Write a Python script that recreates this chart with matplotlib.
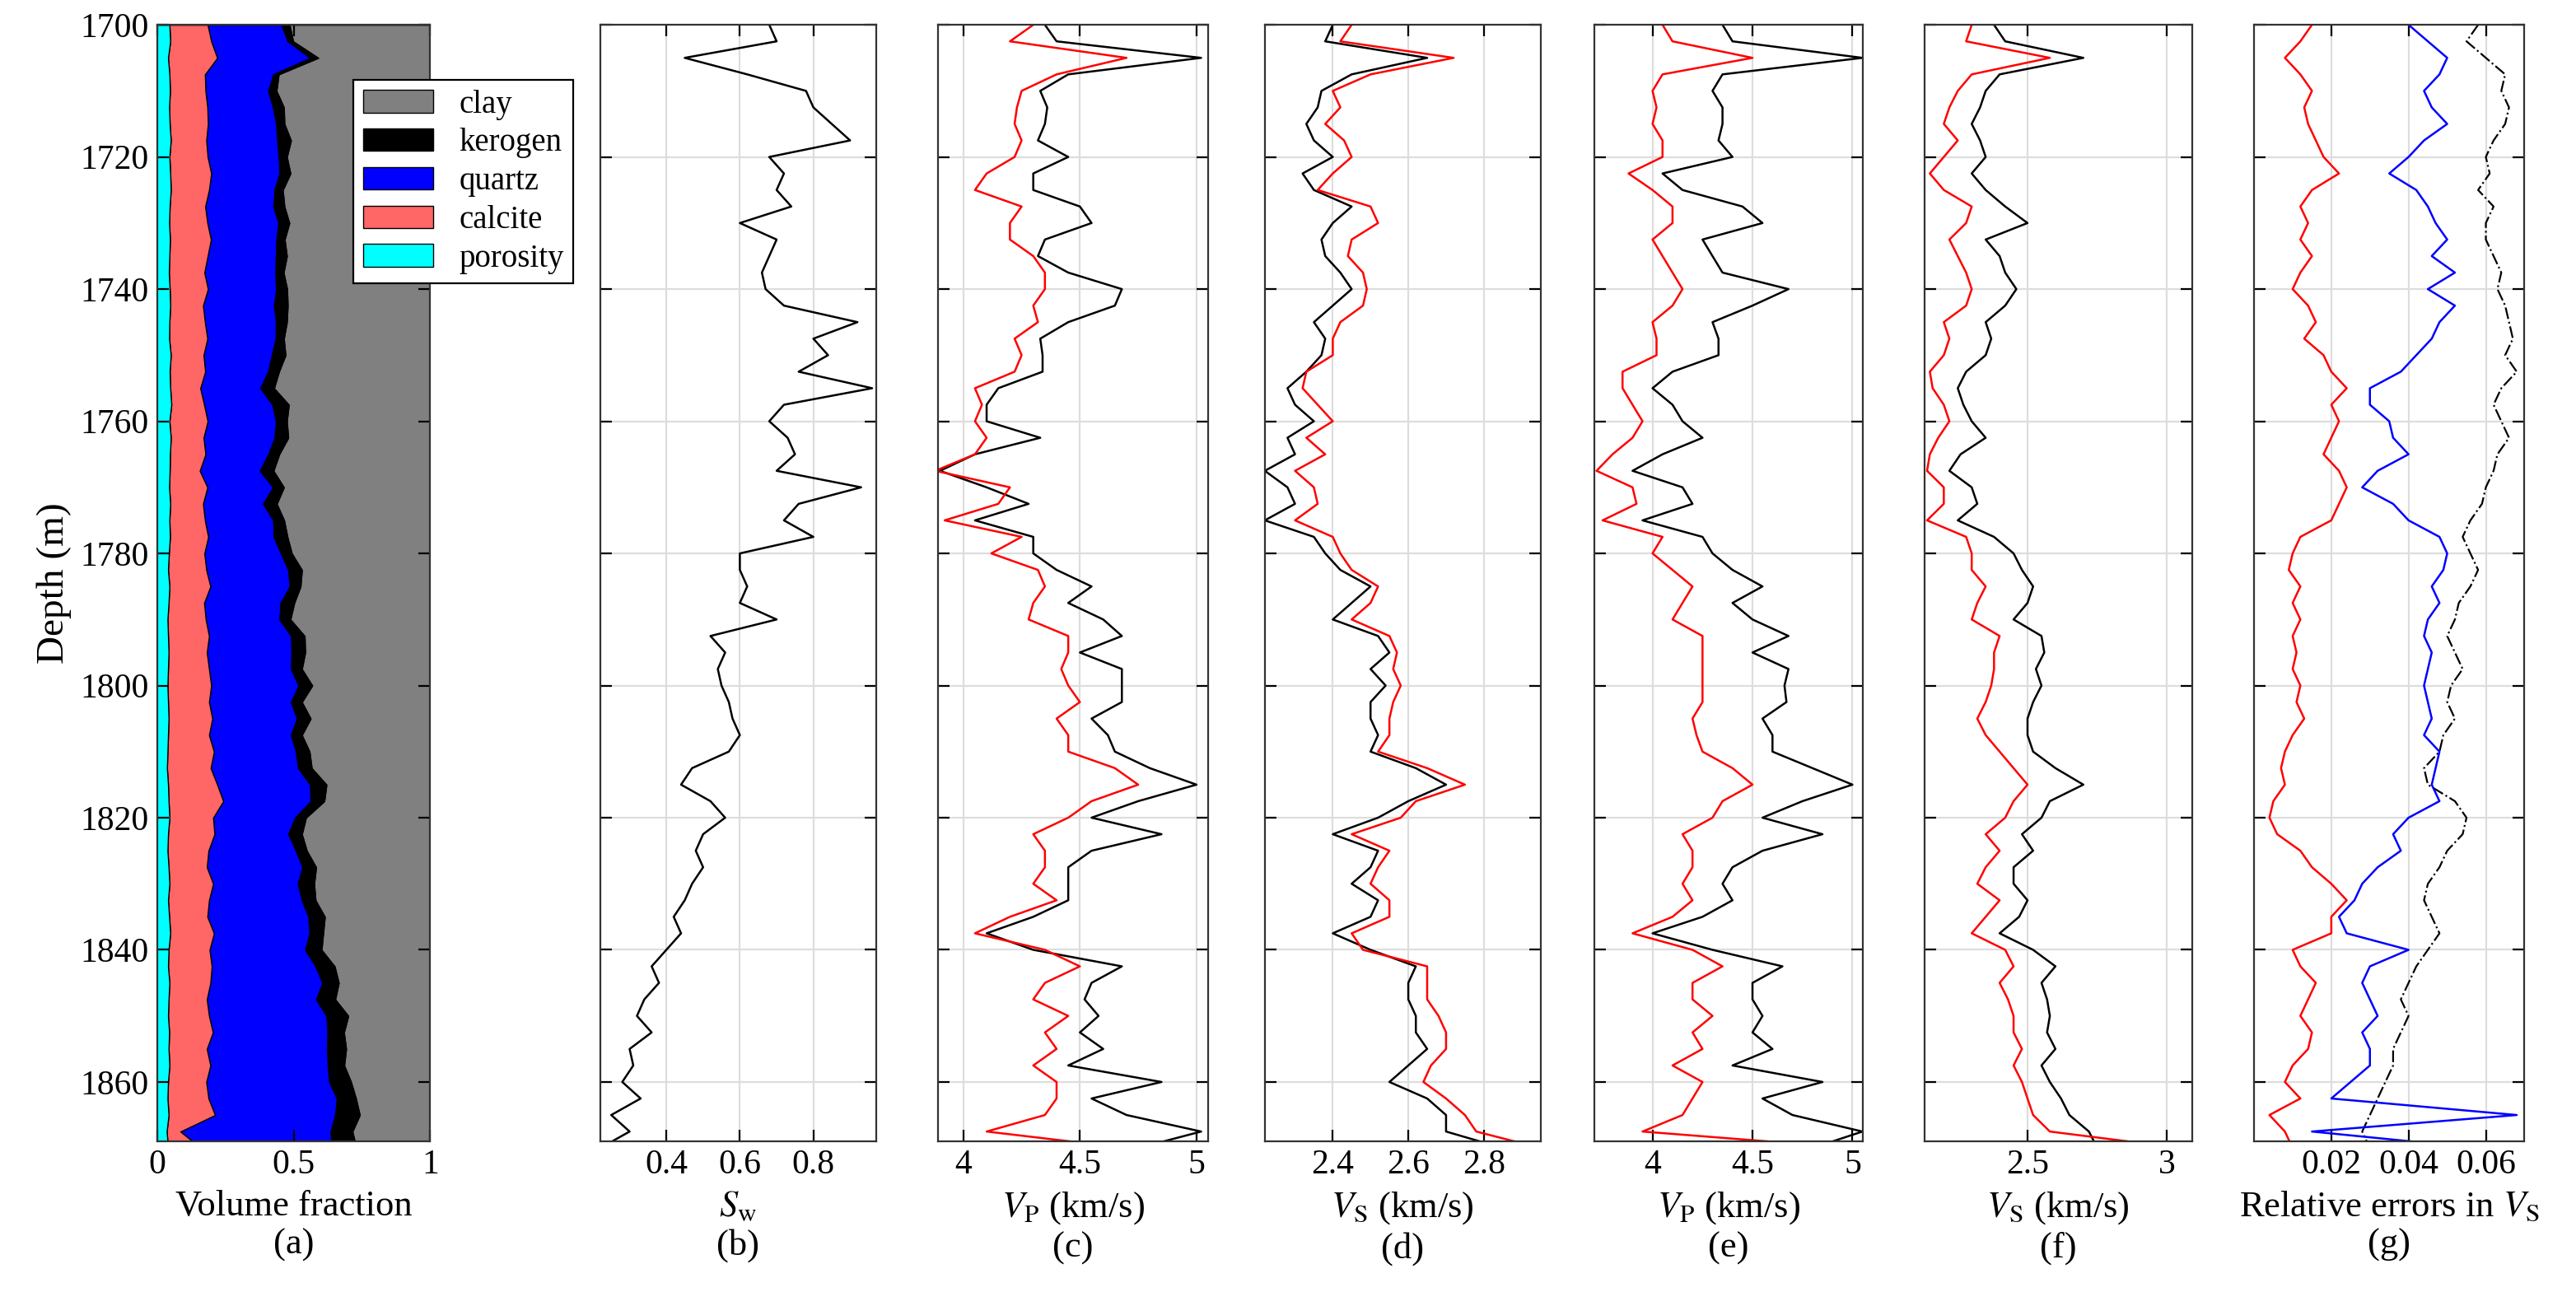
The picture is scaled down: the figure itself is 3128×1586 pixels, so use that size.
import numpy as np
import matplotlib
matplotlib.use("Agg")
import matplotlib.pyplot as plt

plt.rcParams['font.family'] = 'Liberation Serif'
plt.rcParams['mathtext.fontset'] = 'stix'
plt.rcParams['font.size'] = 15

depth = np.arange(1700, 1870.01, 2.5)

porosity = [0.045,0.048,0.040,0.045,0.047,0.044,0.046,0.050,0.045,0.048,0.050,0.046,0.044,0.047,0.045,0.043,0.046,0.048,0.045,0.044,0.050,0.046,0.048,0.052,0.045,0.050,0.047,0.046,0.044,0.048,0.045,0.047,0.043,0.040,0.045,0.042,0.038,0.040,0.042,0.040,0.038,0.040,0.042,0.040,0.038,0.036,0.040,0.042,0.045,0.040,0.038,0.042,0.045,0.040,0.044,0.048,0.042,0.040,0.045,0.042,0.040,0.044,0.042,0.045,0.040,0.038,0.042,0.035,0.040]
calcite = [0.14,0.15,0.18,0.13,0.13,0.14,0.14,0.13,0.14,0.15,0.14,0.13,0.14,0.15,0.14,0.13,0.14,0.12,0.13,0.14,0.12,0.13,0.11,0.12,0.14,0.12,0.13,0.11,0.14,0.12,0.13,0.14,0.13,0.14,0.15,0.13,0.14,0.15,0.14,0.15,0.16,0.15,0.16,0.15,0.17,0.16,0.18,0.20,0.16,0.17,0.15,0.14,0.16,0.15,0.14,0.16,0.15,0.16,0.15,0.14,0.15,0.16,0.14,0.15,0.14,0.15,0.17,0.05,0.12]
quartz = [0.27,0.28,0.34,0.25,0.23,0.24,0.25,0.26,0.26,0.25,0.24,0.25,0.26,0.24,0.25,0.26,0.25,0.26,0.26,0.25,0.25,0.23,0.22,0.25,0.25,0.26,0.23,0.22,0.24,0.22,0.25,0.24,0.28,0.30,0.29,0.28,0.27,0.30,0.31,0.30,0.32,0.30,0.31,0.30,0.30,0.32,0.34,0.32,0.30,0.27,0.32,0.35,0.31,0.34,0.37,0.35,0.35,0.38,0.41,0.40,0.43,0.42,0.44,0.43,0.45,0.47,0.44,0.55,0.48]
kerogen = [0.03,0.02,0.03,0.02,0.03,0.04,0.03,0.05,0.03,0.04,0.03,0.04,0.04,0.03,0.04,0.03,0.04,0.05,0.04,0.03,0.05,0.04,0.05,0.06,0.04,0.05,0.04,0.05,0.04,0.05,0.04,0.05,0.04,0.05,0.04,0.05,0.04,0.05,0.05,0.04,0.05,0.04,0.05,0.04,0.05,0.05,0.06,0.05,0.04,0.05,0.04,0.05,0.06,0.05,0.06,0.05,0.06,0.07,0.06,0.07,0.08,0.06,0.07,0.06,0.08,0.07,0.09,0.08,0.09]

sw = [.68,.70,.45,.62,.78,.80,.85,.90,.68,.72,.70,.74,.60,.70,.68,.66,.67,.72,.92,.80,.84,.76,.96,.72,.68,.73,.75,.70,.93,.76,.72,.80,.60,.60,.62,.60,.70,.52,.56,.54,.55,.57,.58,.60,.57,.47,.44,.52,.56,.50,.48,.50,.47,.45,.42,.44,.40,.36,.38,.34,.32,.36,.30,.31,.28,.33,.25,.30,.22]

vp_c_black = [4.35,4.40,5.02,4.45,4.33,4.36,4.35,4.32,4.45,4.30,4.30,4.50,4.55,4.35,4.32,4.45,4.68,4.65,4.45,4.33,4.34,4.34,4.15,4.10,4.10,4.33,4.05,3.90,4.10,4.28,4.05,4.30,4.30,4.40,4.55,4.45,4.60,4.68,4.50,4.68,4.68,4.68,4.55,4.62,4.65,4.80,5.00,4.75,4.55,4.85,4.55,4.45,4.45,4.45,4.30,4.10,4.30,4.68,4.55,4.52,4.58,4.50,4.60,4.45,4.85,4.55,4.70,5.02,4.75]
vp_c_red = [4.30,4.20,4.70,4.40,4.25,4.23,4.22,4.25,4.22,4.10,4.05,4.25,4.20,4.20,4.30,4.35,4.35,4.30,4.32,4.22,4.25,4.22,4.05,4.08,4.05,4.10,4.05,3.88,4.20,4.15,3.92,4.25,4.12,4.32,4.35,4.30,4.28,4.45,4.45,4.42,4.45,4.50,4.40,4.45,4.45,4.65,4.75,4.55,4.45,4.30,4.35,4.35,4.30,4.40,4.20,4.05,4.35,4.50,4.35,4.30,4.45,4.35,4.40,4.30,4.40,4.40,4.35,4.10,4.70]
vs_d_black = [2.40,2.38,2.65,2.45,2.37,2.36,2.33,2.35,2.40,2.32,2.35,2.45,2.40,2.37,2.38,2.42,2.45,2.40,2.35,2.38,2.37,2.33,2.28,2.30,2.35,2.28,2.30,2.22,2.28,2.30,2.22,2.35,2.38,2.42,2.50,2.45,2.40,2.52,2.55,2.50,2.54,2.50,2.50,2.52,2.50,2.62,2.70,2.60,2.52,2.40,2.52,2.50,2.45,2.52,2.50,2.40,2.50,2.62,2.60,2.60,2.62,2.62,2.65,2.60,2.55,2.65,2.70,2.70,2.85]
vs_d_red = [2.45,2.42,2.72,2.50,2.40,2.42,2.38,2.43,2.45,2.40,2.36,2.50,2.52,2.45,2.44,2.48,2.49,2.48,2.42,2.40,2.40,2.33,2.32,2.36,2.40,2.33,2.38,2.30,2.35,2.36,2.30,2.40,2.42,2.45,2.52,2.50,2.45,2.55,2.57,2.56,2.58,2.56,2.55,2.55,2.52,2.65,2.75,2.62,2.58,2.45,2.55,2.52,2.50,2.55,2.55,2.45,2.48,2.65,2.65,2.65,2.68,2.70,2.70,2.66,2.64,2.70,2.75,2.78,2.95]
vp_e_black = [4.35,4.40,5.05,4.35,4.30,4.35,4.35,4.33,4.40,4.05,4.15,4.45,4.55,4.25,4.30,4.35,4.68,4.50,4.30,4.33,4.33,4.10,4.00,4.10,4.15,4.25,4.05,3.90,4.15,4.20,3.95,4.25,4.30,4.40,4.55,4.40,4.50,4.68,4.50,4.68,4.66,4.67,4.55,4.60,4.60,4.80,5.00,4.75,4.55,4.85,4.55,4.40,4.35,4.40,4.25,4.00,4.30,4.65,4.50,4.50,4.55,4.50,4.60,4.40,4.85,4.55,4.70,5.05,4.80]
vp_e_red = [4.05,4.10,4.50,4.05,4.00,4.02,4.00,4.05,4.05,3.88,4.00,4.10,4.10,4.00,4.05,4.10,4.15,4.10,4.00,4.02,4.02,3.85,3.85,3.90,3.95,3.90,3.80,3.72,3.90,3.92,3.75,4.05,4.00,4.10,4.20,4.15,4.10,4.25,4.25,4.25,4.25,4.25,4.20,4.22,4.25,4.40,4.50,4.35,4.30,4.15,4.20,4.20,4.15,4.20,4.10,3.90,4.20,4.35,4.20,4.20,4.30,4.20,4.25,4.10,4.25,4.20,4.15,3.95,5.00]
vs_f_black = [2.38,2.42,2.70,2.40,2.35,2.33,2.30,2.33,2.35,2.30,2.35,2.42,2.50,2.35,2.40,2.42,2.46,2.42,2.35,2.37,2.35,2.28,2.25,2.27,2.30,2.35,2.26,2.22,2.30,2.32,2.25,2.38,2.45,2.48,2.52,2.50,2.45,2.55,2.56,2.53,2.55,2.52,2.50,2.50,2.52,2.60,2.70,2.58,2.55,2.48,2.52,2.45,2.45,2.50,2.47,2.40,2.52,2.60,2.55,2.57,2.58,2.57,2.60,2.55,2.58,2.62,2.65,2.72,2.75]
vs_f_red = [2.30,2.28,2.58,2.30,2.25,2.22,2.20,2.25,2.20,2.15,2.20,2.30,2.28,2.22,2.25,2.28,2.30,2.28,2.20,2.22,2.20,2.15,2.16,2.20,2.22,2.18,2.15,2.14,2.20,2.20,2.14,2.28,2.30,2.30,2.35,2.32,2.30,2.40,2.38,2.38,2.37,2.35,2.32,2.35,2.40,2.45,2.50,2.45,2.42,2.35,2.40,2.35,2.32,2.40,2.35,2.30,2.42,2.45,2.40,2.43,2.45,2.45,2.48,2.45,2.48,2.50,2.52,2.58,3.05]
err_red = [0.015,0.012,0.008,0.012,0.015,0.013,0.014,0.016,0.018,0.022,0.015,0.012,0.014,0.012,0.015,0.012,0.010,0.014,0.016,0.013,0.018,0.020,0.024,0.020,0.022,0.020,0.018,0.022,0.024,0.022,0.020,0.012,0.010,0.009,0.012,0.010,0.012,0.010,0.011,0.010,0.012,0.011,0.013,0.010,0.008,0.007,0.008,0.005,0.004,0.006,0.012,0.015,0.020,0.024,0.020,0.020,0.010,0.012,0.016,0.014,0.012,0.015,0.014,0.010,0.008,0.012,0.004,0.008,0.010]
err_blue = [0.040,0.045,0.050,0.048,0.044,0.046,0.050,0.044,0.040,0.035,0.042,0.045,0.047,0.050,0.046,0.052,0.045,0.052,0.048,0.046,0.042,0.038,0.030,0.030,0.035,0.036,0.040,0.032,0.028,0.036,0.040,0.048,0.050,0.049,0.046,0.048,0.045,0.044,0.046,0.045,0.044,0.045,0.046,0.044,0.048,0.047,0.046,0.048,0.040,0.036,0.038,0.032,0.028,0.026,0.022,0.024,0.040,0.030,0.028,0.030,0.032,0.028,0.030,0.030,0.025,0.020,0.068,0.015,0.058]
err_black = [0.058,0.055,0.060,0.065,0.064,0.066,0.065,0.062,0.060,0.061,0.058,0.062,0.060,0.060,0.062,0.064,0.063,0.065,0.066,0.067,0.065,0.068,0.064,0.062,0.064,0.066,0.063,0.062,0.060,0.059,0.056,0.054,0.056,0.058,0.056,0.053,0.052,0.050,0.052,0.054,0.051,0.050,0.052,0.049,0.048,0.044,0.045,0.052,0.055,0.054,0.050,0.048,0.045,0.044,0.046,0.048,0.045,0.042,0.040,0.038,0.040,0.038,0.036,0.036,0.034,0.032,0.030,0.028,0.030]

n = len(depth)
for arr in [porosity, calcite, quartz, kerogen, sw, vp_c_black, vp_c_red, vs_d_black, vs_d_red,
            vp_e_black, vp_e_red, vs_f_black, vs_f_red, err_red, err_blue, err_black]:
    assert len(arr) == n, len(arr)

fig = plt.figure(figsize=(15.64, 7.93), dpi=200)
lefts = [0.061, 0.233, 0.364, 0.491, 0.619, 0.747, 0.875]
widths = [0.106, 0.107, 0.105, 0.107, 0.104, 0.104, 0.105]
bottom, height = 0.126, 0.855
axes = [fig.add_axes([l, bottom, w, height]) for l, w in zip(lefts, widths)]

ylim = (1869, 1700)
yt = np.arange(1700, 1861, 20)

# (a)
ax = axes[0]
por = np.array(porosity)
c1 = por + np.array(calcite)
c2 = c1 + np.array(quartz)
c3 = c2 + np.array(kerogen)
h_clay = ax.fill_betweenx(depth, c3, 1, color='#808080', linewidth=0.5, edgecolor='k', label='clay')
h_ker = ax.fill_betweenx(depth, c2, c3, color='k', linewidth=0.5, edgecolor='k', label='kerogen')
h_q = ax.fill_betweenx(depth, c1, c2, color='#0000ff', linewidth=0.5, edgecolor='k', label='quartz')
h_c = ax.fill_betweenx(depth, por, c1, color='#ff6666', linewidth=0.5, edgecolor='k', label='calcite')
h_p = ax.fill_betweenx(depth, 0, por, color='#00ffff', linewidth=0.5, edgecolor='k', label='porosity')
ax.set_xlim(0, 1)
ax.set_xticks([0, 0.5, 1])
ax.set_xticklabels(['0', '0.5', '1'])
ax.set_ylabel('Depth (m)', fontsize=17)
ax.set_xlabel('Volume fraction\n(a)', fontsize=16)
leg = ax.legend(handles=[h_clay, h_ker, h_q, h_c, h_p], loc='upper left',
                bbox_to_anchor=(0.66, 0.965), fancybox=False, edgecolor='k',
                framealpha=1, fontsize=14, handlelength=2.2, borderpad=0.3, labelspacing=0.25)
leg.get_frame().set_linewidth(0.8)

def style(ax):
    ax.set_ylim(*ylim)
    ax.set_yticks(yt)
    ax.tick_params(direction='in', length=5, top=True, right=True, labelsize=15)
    for s in ax.spines.values():
        s.set_linewidth(0.8)
        s.set_color('#333333')

style(axes[0])
axes[0].tick_params(labelsize=15)

lw = 0.9
ax = axes[1]
ax.plot(sw, depth, color='k', lw=lw)
ax.set_xlim(0.22, 0.97)
ax.set_xticks([0.4, 0.6, 0.8])
ax.set_xlabel(r'$S_{\mathrm{w}}$' + '\n(b)', fontsize=16)

ax = axes[2]
ax.plot(vp_c_black, depth, color='k', lw=lw)
ax.plot(vp_c_red, depth, color='r', lw=lw)
ax.set_xlim(3.89, 5.05)
ax.set_xticks([4, 4.5, 5])
ax.set_xticklabels(['4', '4.5', '5'])
ax.set_xlabel(r'$V_{\mathrm{P}}$ (km/s)' + '\n(c)', fontsize=16)

ax = axes[3]
ax.plot(vs_d_black, depth, color='k', lw=lw)
ax.plot(vs_d_red, depth, color='r', lw=lw)
ax.set_xlim(2.22, 2.95)
ax.set_xticks([2.4, 2.6, 2.8])
ax.set_xlabel(r'$V_{\mathrm{S}}$ (km/s)' + '\n(d)', fontsize=16)

ax = axes[4]
ax.plot(vp_e_black, depth, color='k', lw=lw)
ax.plot(vp_e_red, depth, color='r', lw=lw)
ax.set_xlim(3.71, 5.05)
ax.set_xticks([4, 4.5, 5])
ax.set_xticklabels(['4', '4.5', '5'])
ax.set_xlabel(r'$V_{\mathrm{P}}$ (km/s)' + '\n(e)', fontsize=16)

ax = axes[5]
ax.plot(vs_f_black, depth, color='k', lw=lw)
ax.plot(vs_f_red, depth, color='r', lw=lw)
ax.set_xlim(2.13, 3.09)
ax.set_xticks([2.5, 3])
ax.set_xticklabels(['2.5', '3'])
ax.set_xlabel(r'$V_{\mathrm{S}}$ (km/s)' + '\n(f)', fontsize=16)

ax = axes[6]
ax.plot(err_black, depth, color='k', lw=0.8, ls='-.')
ax.plot(err_blue, depth, color='b', lw=lw)
ax.plot(err_red, depth, color='r', lw=lw)
ax.set_xlim(0, 0.07)
ax.set_xticks([0.02, 0.04, 0.06])
ax.set_xlabel(r'Relative errors in $V_{\mathrm{S}}$' + '\n(g)', fontsize=16)

for ax in axes[1:]:
    style(ax)
    ax.set_yticklabels([])
    ax.grid(True, color='#dddddd', lw=0.8)
    ax.set_axisbelow(True)

fig.savefig('out.png', dpi=200)
